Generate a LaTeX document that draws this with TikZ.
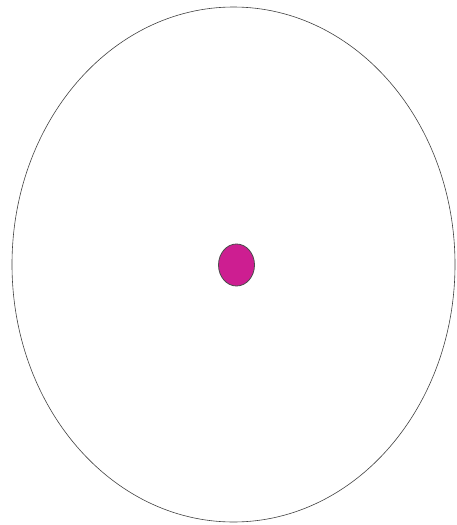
\documentclass[tikz,border=0pt]{standalone}
\usepackage{tikz}
\usetikzlibrary{shapes.geometric}
\definecolor{dotmagenta}{RGB}{205,30,145}

\begin{document}
\begin{tikzpicture}[x=1pt,y=-1pt,
  rim/.style={draw=black!75,ellipse,line width=0.6pt,minimum width=443pt,
              minimum height=515pt,inner sep=0pt},
  centre/.style={draw=black!70,ellipse,fill=dotmagenta,line width=0.8pt,
                 minimum width=36pt,minimum height=42pt,inner sep=0pt}]
  \useasboundingbox (0,0) rectangle (457,525);

  % outer ellipse
  \node[rim] (outer) at (233.5,264.5) {};

  % centre dot
  \node[centre] (dot) at (236.5,265) {};

\end{tikzpicture}
\end{document}
